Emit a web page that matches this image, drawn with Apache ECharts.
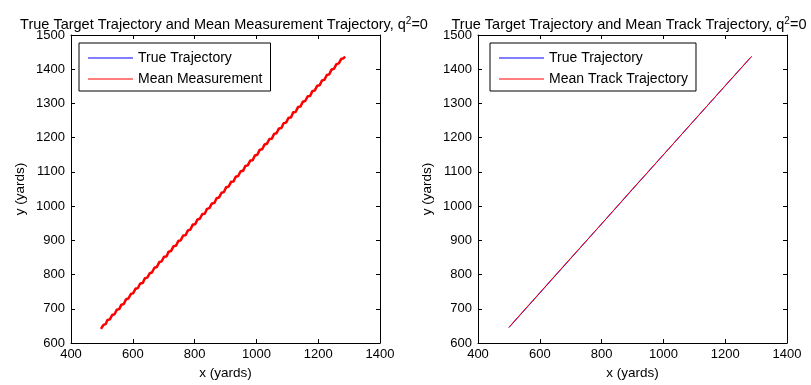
<!DOCTYPE html>
<html>
<head>
<meta charset="utf-8">
<script src="https://cdn.jsdelivr.net/npm/echarts@6/dist/echarts.min.js"></script>
<style>
  html, body { margin: 0; padding: 0; background: #fff; }
  #chart { width: 811px; height: 385px; }
</style>
</head>
<body>
<div id="chart"></div>
<script>
  // true target path (yards)
  var trueTrajectory = [[500, 645], [700, 847], [900, 1049], [1100, 1251], [1285, 1437]]

  var meanMeasurement = [
    [497, 641], [505, 653], [512, 655], [518, 667], [526, 669], [533, 682], [541, 684], [548, 697],
    [556, 699], [563, 712], [571, 714], [578, 728], [586, 730], [594, 744], [601, 745], [609, 759],
    [616, 760], [624, 774], [632, 775], [639, 789], [647, 791], [655, 804], [662, 806], [670, 820],
    [678, 822], [686, 837], [693, 838], [701, 852], [709, 853], [716, 867], [724, 869], [732, 883],
    [740, 884], [747, 898], [755, 900], [763, 914], [771, 915], [778, 929], [786, 931], [794, 946],
    [802, 947], [809, 961], [817, 963], [825, 977], [833, 978], [840, 992], [848, 994], [856, 1008],
    [864, 1009], [871, 1023], [879, 1025], [887, 1039], [895, 1041], [902, 1055], [910, 1057], [918, 1071],
    [926, 1072], [933, 1086], [941, 1088], [949, 1102], [957, 1103], [964, 1117], [972, 1119], [980, 1133],
    [988, 1134], [995, 1148], [1003, 1150], [1011, 1165], [1019, 1166], [1026, 1180], [1034, 1182], [1042, 1196],
    [1050, 1197], [1057, 1211], [1065, 1213], [1073, 1227], [1081, 1228], [1088, 1242], [1096, 1244], [1104, 1258],
    [1112, 1259], [1119, 1274], [1127, 1275], [1135, 1290], [1143, 1291], [1150, 1305], [1158, 1307], [1166, 1321],
    [1174, 1322], [1181, 1336], [1189, 1338], [1197, 1352], [1205, 1353], [1212, 1367], [1220, 1369], [1228, 1383],
    [1236, 1385], [1243, 1399], [1251, 1401], [1259, 1415], [1267, 1417], [1274, 1430], [1282, 1432], [1287, 1437]
  ]

  // mean track output, right panel
  var meanTrack = [[500, 646], [600, 747], [700, 848], [800, 948], [900, 1050], [1000, 1150], [1100, 1251], [1200, 1352], [1285, 1437]]

  var xTicks = [400, 600, 800, 1000, 1200, 1400]
  var yTicks = [600, 700, 800, 900, 1000, 1100, 1200, 1300, 1400, 1500]

  var font = 'Liberation Sans, Arial, sans-serif'
  var chart = echarts.init(document.getElementById('chart'))

  function plain(v) { return String(v) }

  function xAxisFor(gi, top) {
    return {
      type: 'value', gridIndex: gi, position: top ? 'top' : 'bottom',
      min: xTicks[0], max: xTicks[xTicks.length - 1], interval: 200,
      name: top ? '' : 'x (yards)', nameLocation: 'middle', nameGap: 23,
      nameTextStyle: { color: '#000', fontSize: 13.5, fontFamily: font },
      axisLine: { show: true, onZero: false, lineStyle: { color: '#000', width: 1 } },
      axisTick: { show: true, inside: true, length: 4, lineStyle: { color: '#000' } },
      axisLabel: { show: !top, color: '#000', fontSize: 13, fontFamily: font, margin: 5, formatter: plain },
      splitLine: { show: false }
    }
  }
  function yAxisFor(gi, right) {
    return {
      type: 'value', gridIndex: gi, position: right ? 'right' : 'left',
      min: yTicks[0], max: yTicks[yTicks.length - 1], interval: 100,
      name: right ? '' : 'y (yards)', nameLocation: 'middle', nameGap: 44, nameRotate: 90,
      nameTextStyle: { color: '#000', fontSize: 13.5, fontFamily: font },
      axisLine: { show: true, onZero: false, lineStyle: { color: '#000', width: 1 } },
      axisTick: { show: true, inside: true, length: 4, lineStyle: { color: '#000' } },
      axisLabel: { show: !right, color: '#000', fontSize: 13, fontFamily: font, margin: 6, formatter: plain },
      splitLine: { show: false }
    }
  }

  function titleRich(text, x) {
    return {
      text: text + ', q{sup|2}=0', left: x, top: 11, textAlign: 'center',
      textStyle: {
        color: '#000', fontSize: 14.5, fontWeight: 'normal', fontFamily: font,
        rich: { sup: { fontSize: 10, verticalAlign: 'top', padding: [0, 0, 8, 0], fontFamily: font } }
      }
    }
  }

  function legendFor(left, names) {
    return {
      show: true, left: left, top: 43, orient: 'vertical',
      data: names.map(function (n) { return { name: n, icon: 'path://M0,0 L100,0 L100,2 L0,2 Z' } }),
      itemWidth: 45, itemHeight: 1, itemGap: 7,
      padding: [8, 8, 5, 9],
      backgroundColor: '#fff', borderColor: '#000', borderWidth: 1,
      textStyle: { color: '#000', fontSize: 14, lineHeight: 14, fontFamily: font }
    }
  }

  chart.setOption({
    animation: false,
    backgroundColor: '#fff',
    title: [
      titleRich('True Target Trajectory and Mean Measurement Trajectory', 219),
      titleRich('True Target Trajectory and Mean Track Trajectory', 624)
    ],
    legend: [
      legendFor(79, ['True Trajectory', 'Mean Measurement']),
      legendFor(490, ['True Trajectory ', 'Mean Track Trajectory'])
    ],
    grid: [
      { left: 71, right: 431, top: 35, bottom: 41 },
      { left: 478, right: 24, top: 35, bottom: 41 }
    ],
    xAxis: [xAxisFor(0, false), xAxisFor(0, true), xAxisFor(1, false), xAxisFor(1, true)],
    yAxis: [yAxisFor(0, false), yAxisFor(0, true), yAxisFor(1, false), yAxisFor(1, true)],
    series: [
      {
        name: 'True Trajectory', type: 'line', xAxisIndex: 0, yAxisIndex: 0,
        data: trueTrajectory, showSymbol: false, symbol: 'none',
        lineStyle: { color: '#0000ff', width: 1 }, itemStyle: { color: '#0000ff' }
      },
      {
        name: 'Mean Measurement', type: 'line', xAxisIndex: 0, yAxisIndex: 0,
        data: meanMeasurement, showSymbol: false, symbol: 'none',
        lineStyle: { color: '#ff0000', width: 2.5 }, itemStyle: { color: '#ff0000' }
      },
      {
        name: 'True Trajectory ', type: 'line', xAxisIndex: 2, yAxisIndex: 2,
        data: trueTrajectory, showSymbol: false, symbol: 'none',
        lineStyle: { color: '#0000ff', width: 1 }, itemStyle: { color: '#0000ff' }
      },
      {
        name: 'Mean Track Trajectory', type: 'line', xAxisIndex: 2, yAxisIndex: 2,
        data: meanTrack, showSymbol: false, symbol: 'none',
        lineStyle: { color: '#ff0000', width: 1 }, itemStyle: { color: '#ff0000' }
      }
    ]
  })
</script>
</body>
</html>
